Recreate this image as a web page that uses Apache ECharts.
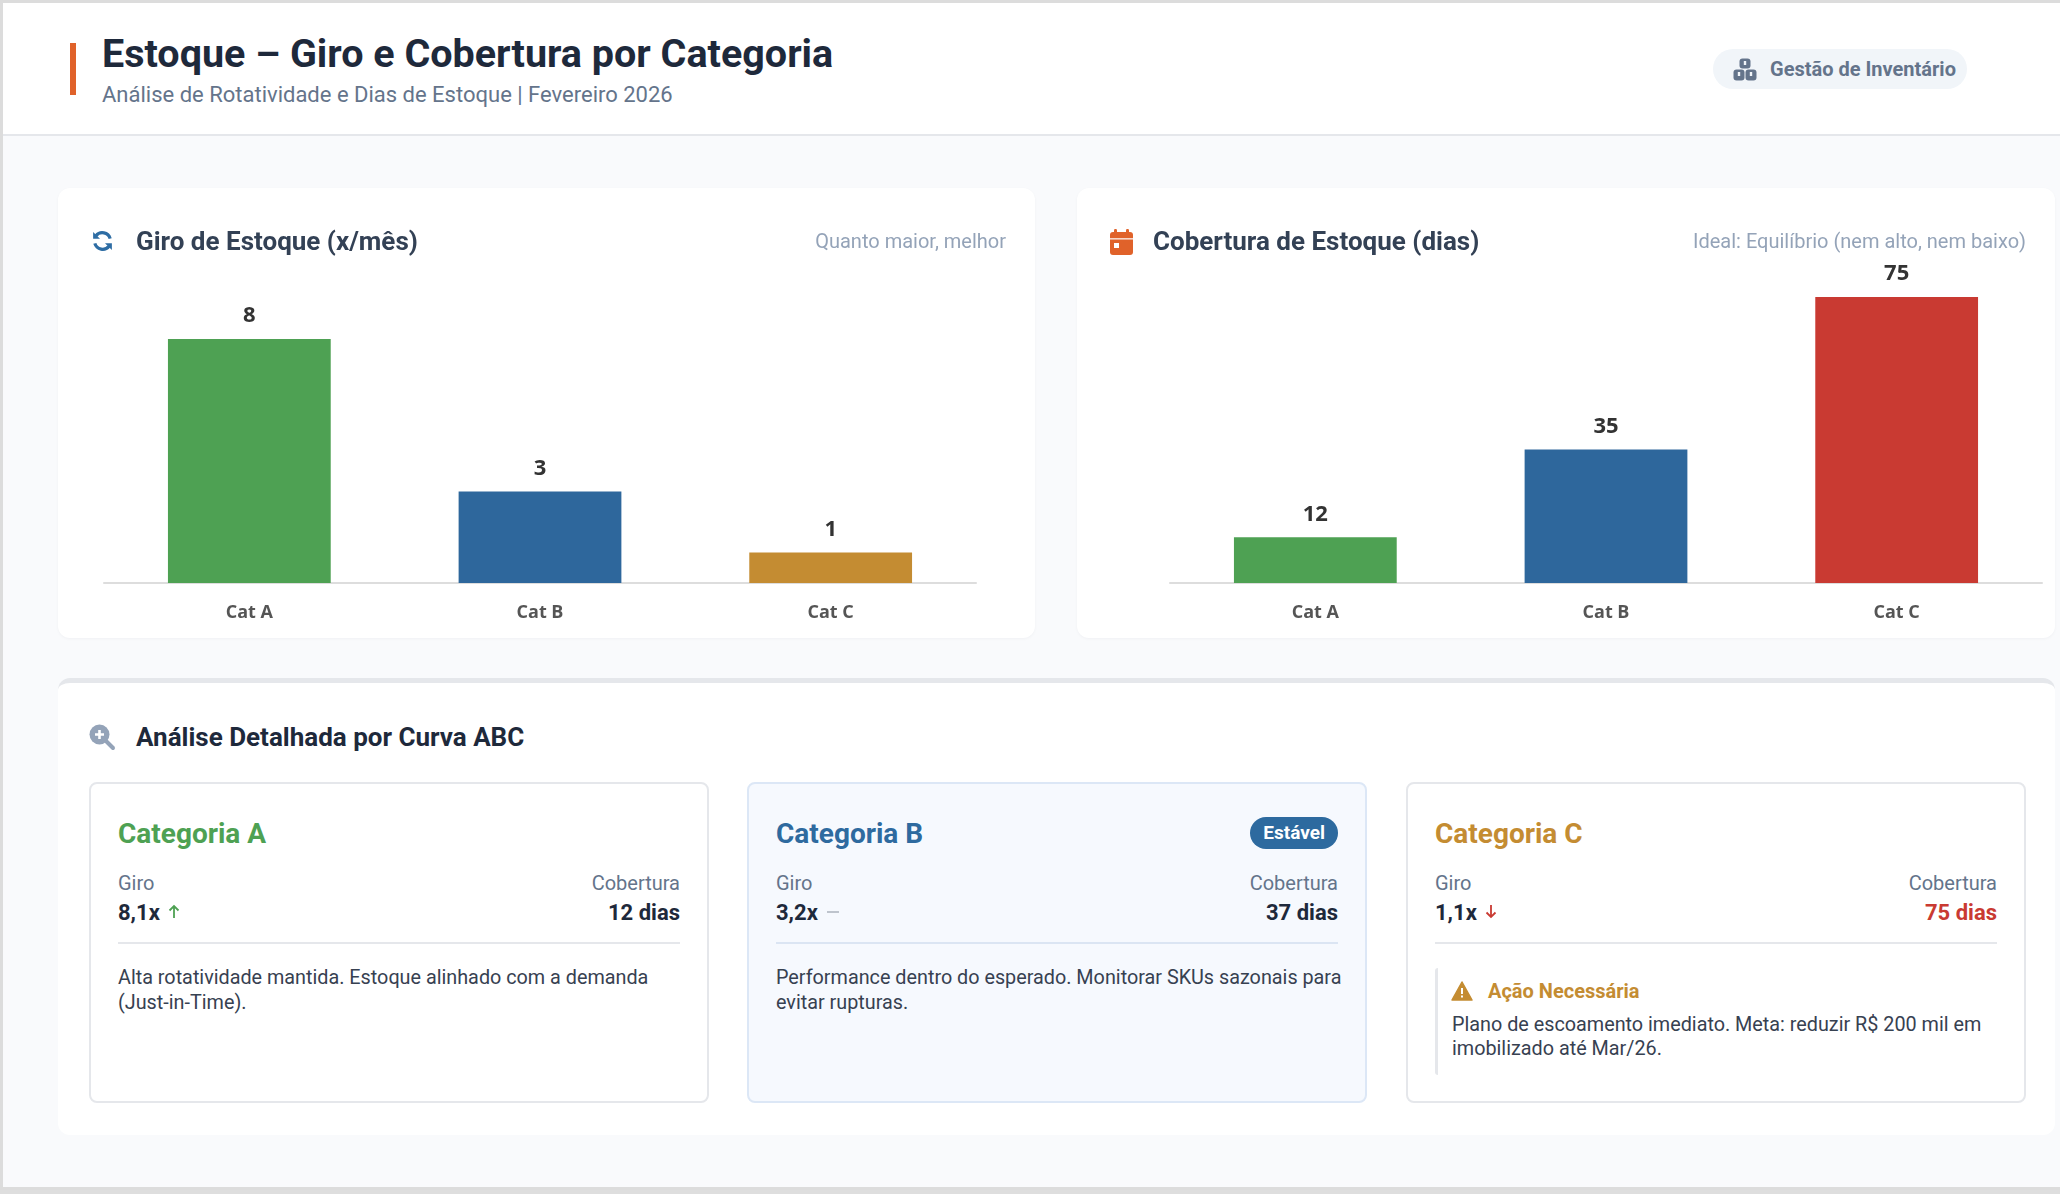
<!DOCTYPE html>
<html lang="pt-BR">
<head>
<meta charset="utf-8">
<title>Estoque – Giro e Cobertura por Categoria</title>
<script src="https://cdn.jsdelivr.net/npm/echarts@6/dist/echarts.min.js"></script>
<style>
  html, body { margin: 0; padding: 0; }
  body { background: #dedede; font-family: Roboto, "Noto Sans", sans-serif; overflow: hidden; }
  .frame { position: absolute; left: 0; top: 0; width: 2300px; height: 1190px; background: #f9fafc; }
  .edge { position: absolute; left: 0; top: 0; width: 2300px; height: 1190px; border: 3px solid #dcdcdc; box-sizing: border-box; pointer-events: none; z-index: 50; }
  .header { position: absolute; left: 0; top: 0; width: 2300px; height: 134px; background: #fff; border-bottom: 2px solid #e5e7eb; }
  .accent { position: absolute; left: 70px; top: 43px; width: 6px; height: 52px; background: #e0622a; }
  .title { position: absolute; left: 102px; top: 30px; font-size: 39.5px; line-height: 48px; font-weight: 700; color: #1e293b; white-space: nowrap; }
  .subtitle { position: absolute; left: 102px; top: 81px; font-size: 22px; line-height: 28px; color: #64748b; white-space: nowrap; }
  .badge { position: absolute; left: 1713px; top: 49px; width: 254px; height: 40px; border-radius: 20px; background: #f1f5f9; color: #64748b; font-weight: 700; font-size: 20px; line-height: 40px; box-sizing: border-box; padding-left: 57px; white-space: nowrap; }
  .badge svg { position: absolute; left: 20px; top: 9px; }

  .panel { position: absolute; top: 188px; height: 450px; background: #fff; border-radius: 12px; box-shadow: 0 1px 3px rgba(15,23,42,0.04); }
  .panel .chart { position: absolute; left: 0; top: 0; width: 100%; height: 100%; }
  .ptitle { position: absolute; top: 37px; height: 32px; line-height: 32px; font-size: 26px; font-weight: 700; color: #334155; white-space: nowrap; z-index: 2; }
  .ptitle svg { position: absolute; top: 4px; }
  .pnote { position: absolute; top: 38px; right: 29px; line-height: 30px; font-size: 20px; color: #94a3b8; white-space: nowrap; z-index: 2; }

  .bottom { position: absolute; left: 58px; top: 678px; width: 1997px; height: 457px; background: #fff; border-radius: 12px; border-top: 5px solid #e5e7eb; box-sizing: border-box; }
  .btitle { position: absolute; left: 78px; top: 38px; line-height: 32px; font-size: 26px; font-weight: 700; color: #1e293b; white-space: nowrap; }
  .btitle svg { position: absolute; left: -47px; top: 3px; }

  .card { position: absolute; top: 782px; width: 620px; height: 321px; border: 2px solid #e5e7eb; border-radius: 8px; background: #fff; box-sizing: border-box; }
  .card.destaque { background: #f6f9fe; border-color: #dce7f6; }
  .card .ctitle { position: absolute; left: 27px; top: 32px; line-height: 36px; font-size: 28px; font-weight: 700; }
  .card .lbl { position: absolute; top: 87px; line-height: 24px; font-size: 20px; color: #64748b; }
  .card .val { position: absolute; top: 115px; line-height: 28px; font-size: 22px; font-weight: 700; color: #1e293b; white-space: nowrap; }
  .card .val svg { margin-left: 8px; vertical-align: 1px; }
  .card .l { left: 27px; }
  .card .r { right: 27px; text-align: right; }
  .card .divisor { position: absolute; left: 27px; right: 27px; top: 158px; height: 2px; background: #e5e7eb; }
  .card.destaque .divisor { background: #dbe5f3; }
  .card .desc { position: absolute; left: 27px; right: 14px; top: 181px; font-size: 19.8px; line-height: 25px; color: #374151; }
  .nw { white-space: nowrap; }
  .card .tag { position: absolute; right: 27px; top: 33px; height: 32px; line-height: 32px; padding: 0 13px; border-radius: 16px; background: #2d6a9f; color: #fff; font-size: 19px; font-weight: 700; }
  .alerta { position: absolute; left: 27px; right: 27px; top: 184px; height: 107px; border-left: 3px solid #e5e7eb; border-radius: 3px; }
  .alerta .atit { position: absolute; left: 50px; top: 11px; line-height: 24px; font-size: 20px; font-weight: 700; color: #c48c32; white-space: nowrap; }
  .alerta .atit svg { position: absolute; left: -37px; top: 2px; }
  .alerta .atxt { position: absolute; left: 14px; right: 6px; top: 45px; font-size: 19.8px; line-height: 24px; color: #374151; }
</style>
</head>
<body>
<div class="frame">
  <div class="header">
    <div class="accent"></div>
    <div class="title">Estoque – Giro e Cobertura por Categoria</div>
    <div class="subtitle">Análise de Rotatividade e Dias de Estoque | Fevereiro 2026</div>
    <div class="badge">
      <svg width="24" height="23" viewBox="0 0 24 23"><g fill="#64748b"><rect x="6.5" y="0.5" width="11" height="10" rx="3"/><rect x="0.5" y="11.5" width="11" height="11" rx="3"/><rect x="12.5" y="11.5" width="11" height="11" rx="3"/></g><g fill="#f1f5f9"><rect x="10.8" y="3" width="2.4" height="4"/><rect x="4.8" y="14" width="2.4" height="4"/><rect x="16.8" y="14" width="2.4" height="4"/></g></svg>
      Gestão de Inventário
    </div>
  </div>

  <div class="panel" style="left:58px; width:977px;">
    <div id="giroChart" class="chart"></div>
    <div class="ptitle" style="left:78px;">
      <svg style="left:-45px;" width="23" height="24" viewBox="0 0 24 24"><path d="M20 9.5A8.5 8.5 0 0 0 5.2 6.6" stroke="#2e6da4" stroke-width="3.4" fill="none"/><path d="M2.2 2.5v7.2h7.2z" fill="#2e6da4"/><path d="M4 14.5a8.5 8.5 0 0 0 14.8 2.9" stroke="#2e6da4" stroke-width="3.4" fill="none"/><path d="M21.8 21.5v-7.2h-7.2z" fill="#2e6da4"/></svg>
      Giro de Estoque (x/mês)
    </div>
    <div class="pnote">Quanto maior, melhor</div>
  </div>

  <div class="panel" style="left:1077px; width:978px;">
    <div id="coberturaChart" class="chart"></div>
    <div class="ptitle" style="left:76px;">
      <svg style="left:-43px;" width="23" height="26" viewBox="0 0 23 26"><rect x="4" y="0" width="3" height="6" rx="1.2" fill="#e0622a"/><rect x="16" y="0" width="3" height="6" rx="1.2" fill="#e0622a"/><rect x="0" y="3" width="23" height="23" rx="3" fill="#e0622a"/><rect x="0" y="9" width="23" height="1.6" fill="#fff" opacity="0.75"/><rect x="4" y="14" width="5" height="5" fill="#fff"/></svg>
      Cobertura de Estoque (dias)
    </div>
    <div class="pnote">Ideal: Equilíbrio (nem alto, nem baixo)</div>
  </div>

  <div class="bottom">
    <div class="btitle">
      <svg width="27" height="27" viewBox="0 0 27 27"><line x1="16" y1="16" x2="24" y2="24" stroke="#94a3b8" stroke-width="4" stroke-linecap="round"/><circle cx="10.5" cy="10.5" r="10" fill="#94a3b8"/><path d="M10.5 6v9M6 10.5h9" stroke="#fff" stroke-width="2.6"/></svg>
      Análise Detalhada por Curva ABC
    </div>
  </div>

  <div id="cards"></div>
</div>
<div class="edge"></div>

<script>
// valores
var categorias = ['Cat A', 'Cat B', 'Cat C'];
var giroValores = [8, 3, 1];
var coberturaValores = [12, 35, 75];

// dados dos cards (curva ABC)
var cardNomes = ['Categoria A', 'Categoria B', 'Categoria C'];
var cardGiro = [8.1, 3.2, 1.1];
var cardCobertura = [12, 37, 75];
var cardTendencia = ['up', 'flat', 'down'];
var cardTexto = [
    'Alta rotatividade mantida. Estoque alinhado com a demanda <span class="nw">(Just-in-Time).</span>',
    'Performance dentro do esperado. Monitorar SKUs sazonais para evitar rupturas.',
    'Plano de escoamento imediato. Meta: reduzir R$ 200 mil em imobilizado até Mar/26.'
];

var coresGiro = ['#4ea153', '#2e679c', '#c48c32'];
var coresCobertura = ['#4ea153', '#2e679c', '#c93a32'];

function barOption(valores, cores, maxY, gridLeft, gridRight) {
    return {
        animation: false,
        grid: {left: gridLeft, right: gridRight, top: 90, bottom: 55},
        xAxis: {
            type: 'category',
            data: categorias,
            axisLine: {lineStyle: {color: '#dddddd', width: 2}},
            axisTick: {show: false},
            axisLabel: {color: '#555', fontWeight: 'bold', fontSize: 18, margin: 21, fontFamily: 'Open Sans'}
        },
        yAxis: {type: 'value', min: 0, max: maxY, show: false, splitLine: {show: false}},
        series: [{
            type: 'bar',
            barWidth: '56%',
            data: valores.map(function (v, i) {
                return {value: v, itemStyle: {color: cores[i]}};
            }),
            label: {
                show: true, position: 'top', distance: 12,
                fontSize: 22, fontWeight: 'bold', color: '#333', fontFamily: 'Open Sans'
            }
        }]
    };
}

var giroChart = echarts.init(document.getElementById('giroChart'));
giroChart.setOption(barOption(giroValores, coresGiro, 10, 46, 59));

var coberturaChart = echarts.init(document.getElementById('coberturaChart'));
coberturaChart.setOption(barOption(coberturaValores, coresCobertura, 80, 93, 13));

// setas de tendencia
var setaUp = '<svg width="12" height="15" viewBox="0 0 12 15"><path d="M6 14V2M1.5 6.5L6 2l4.5 4.5" stroke="#4ea153" stroke-width="1.8" fill="none"/></svg>';
var setaDown = '<svg width="12" height="15" viewBox="0 0 12 15"><path d="M6 1v12M1.5 8.5L6 13l4.5-4.5" stroke="#c93a32" stroke-width="1.8" fill="none"/></svg>';
var setaFlat = '<svg width="14" height="15" viewBox="0 0 14 15"><path d="M1 8h12" stroke="#b8bec8" stroke-width="1.8"/></svg>';

// cards
var cardLeft = [89, 747, 1406];
var corTitulo = ['#4ea153', '#2e6a9f', '#c48c32'];
var html = '';
for (var i = 0; i < 3; i++) {
    var seta = setaFlat;
    if (cardTendencia[i] == 'up') seta = setaUp;
    if (cardTendencia[i] == 'down') seta = setaDown;
    var corCob = cardTendencia[i] == 'down' ? '#c93a32' : '#1e293b';
    html += '<div class="card' + (i == 1 ? ' destaque' : '') + '" style="left:' + cardLeft[i] + 'px">';
    html += '<div class="ctitle" style="color:' + corTitulo[i] + '">' + cardNomes[i] + '</div>';
    if (i == 1) html += '<div class="tag">Estável</div>';
    html += '<div class="lbl l">Giro</div><div class="lbl r">Cobertura</div>';
    html += '<div class="val l">' + String(cardGiro[i]).replace('.', ',') + 'x' + seta + '</div>';
    html += '<div class="val r" style="color:' + corCob + '">' + cardCobertura[i] + ' dias</div>';
    html += '<div class="divisor"></div>';
    if (i == 2) {
        html += '<div class="alerta"><div class="atit">' +
            '<svg width="22" height="20" viewBox="0 0 22 20"><path d="M11 1L21 19H1z" fill="#c48c32" stroke="#c48c32" stroke-width="1.5" stroke-linejoin="round"/><rect x="10" y="7" width="2" height="6" fill="#fff"/><rect x="10" y="14.5" width="2" height="2" fill="#fff"/></svg>' +
            'Ação Necessária</div><div class="atxt">' + cardTexto[i] + '</div></div>';
    } else {
        html += '<div class="desc">' + cardTexto[i] + '</div>';
    }
    html += '</div>';
}
document.getElementById('cards').innerHTML = html;
</script>
</body>
</html>
